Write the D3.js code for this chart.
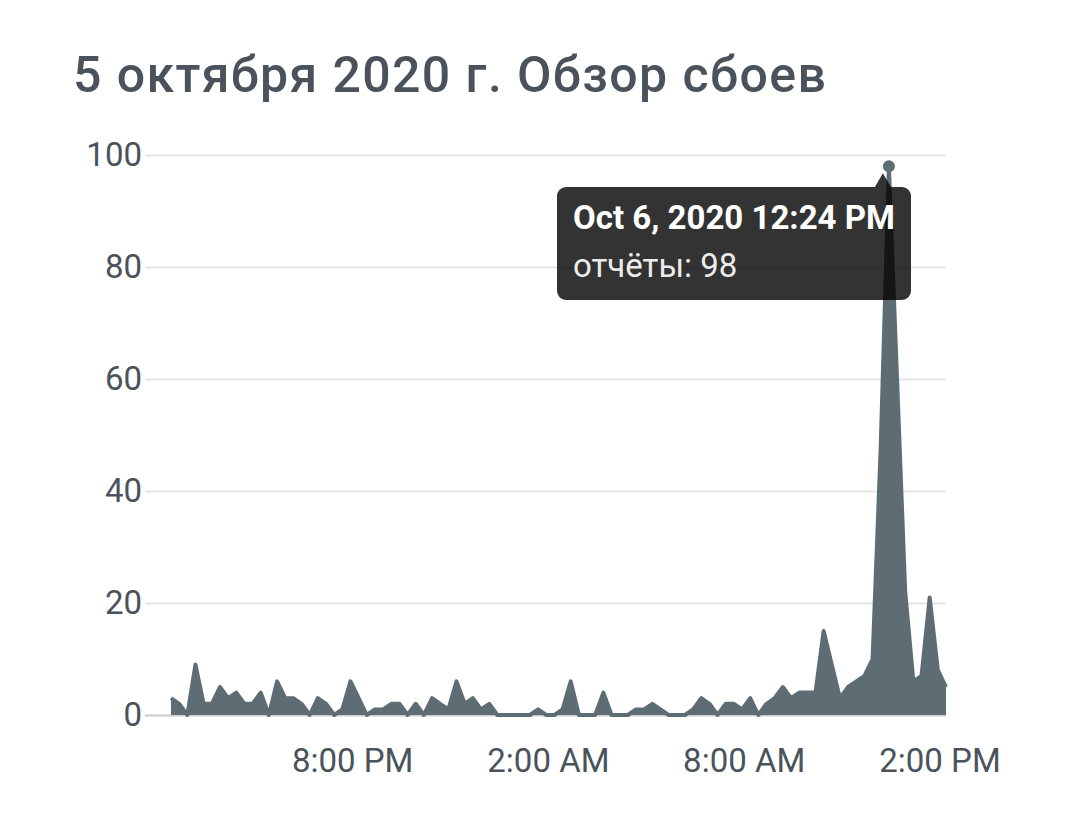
<!DOCTYPE html>
<html>
<head>
<meta charset="utf-8">
<script src="https://cdn.jsdelivr.net/npm/d3@7"></script>
<style>
  html, body { margin: 0; padding: 0; background: #ffffff; }
  svg { display: block; font-family: Roboto, "Noto Sans", sans-serif; }
</style>
</head>
<body>
<svg id="chart" width="1080" height="824"></svg>
<script>
// ---- data ----
const title = "5 октября 2020 г. Обзор сбоев";
const startTime = new Date(2020, 9, 5, 14, 27);
const stepMinutes = 15;
const reports = [
  3, 2, 0, 9, 2, 2, 5, 3, 4, 2, 2, 4, 0, 6, 3, 3, 2, 0, 3, 2,
  0, 1, 6, 3, 0, 1, 1, 2, 2, 0, 2, 0, 3, 2, 1, 6, 2, 3, 1, 2,
  0, 0, 0, 0, 0, 1, 0, 0, 1, 6, 0, 0, 0, 4, 0, 0, 0, 1, 1, 2,
  1, 0, 0, 0, 1, 3, 2, 0, 2, 2, 1, 3, 0, 2, 3, 5, 3, 4, 4, 4,
  15, 9, 3, 5, 6, 7, 10, 48, 98, 60, 22, 6, 7, 21, 8, 5
];
const yTicks = [0, 20, 40, 60, 80, 100];
const xTickTimes = [
  new Date(2020, 9, 5, 20, 0),
  new Date(2020, 9, 6, 2, 0),
  new Date(2020, 9, 6, 8, 0),
  new Date(2020, 9, 6, 14, 0)
];
const xTickLabels = ["8:00 PM", "2:00 AM", "8:00 AM", "2:00 PM"];
const tooltipIndex = 88;
const tooltipTitle = "Oct 6, 2020 12:24 PM";
const tooltipLabel = "отчёты: 98";

const data = reports.map((v, i) => ({ t: d3.timeMinute.offset(startTime, i * stepMinutes), v }));

// ---- layout ----
const plotLeft = 171, plotRight = 946, plotTop = 155, plotBottom = 715, gridLeft = 145;
const textColor = "#4a535b";
const areaColor = "#5e6c74";
const axisFont = 33;

const svg = d3.select("#chart");

const x = d3.scaleTime()
  .domain(d3.extent(data, d => d.t))
  .range([plotLeft, plotRight]);
const y = d3.scaleLinear().domain([0, 100]).range([plotBottom, plotTop]);

// title
svg.append("text")
  .attr("x", 73).attr("y", 92)
  .attr("fill", textColor)
  .attr("font-size", 50)
  .attr("font-weight", 500)
  .attr("letter-spacing", 1.4)
  .text(title);

// y axis + gridlines
const yAxis = svg.append("g")
  .attr("transform", `translate(${plotRight},0)`)
  .call(d3.axisLeft(y).tickValues(yTicks).tickFormat(d3.format("d"))
    .tickSize(plotRight - gridLeft).tickPadding(3));
yAxis.select(".domain").remove();
yAxis.selectAll(".tick line")
  .attr("stroke", d => d === 0 ? "#cccccc" : "#e4e4e4")
  .attr("stroke-width", 2);
yAxis.selectAll(".tick text")
  .attr("fill", textColor)
  .attr("font-size", axisFont)
  .attr("font-family", "Roboto, 'Noto Sans', sans-serif");

// x axis
const xAxis = svg.append("g")
  .attr("transform", `translate(0,${plotBottom})`)
  .call(d3.axisBottom(x).tickValues(xTickTimes)
    .tickFormat((d, i) => xTickLabels[i]).tickSize(0).tickPadding(34));
xAxis.select(".domain").remove();
xAxis.selectAll(".tick text")
  .attr("fill", textColor)
  .attr("font-size", axisFont)
  .attr("font-family", "Roboto, 'Noto Sans', sans-serif");

// area
const area = d3.area().x(d => x(d.t)).y0(y(0)).y1(d => y(d.v));
const line = d3.line().x(d => x(d.t)).y(d => y(d.v));
svg.append("path").datum(data).attr("d", area).attr("fill", areaColor);
svg.append("path").datum(data).attr("d", line)
  .attr("fill", "none").attr("stroke", areaColor)
  .attr("stroke-width", 4).attr("stroke-linejoin", "round");

// hover point
const tp = data[tooltipIndex];
const px = x(tp.t), py = y(tp.v);
svg.append("circle").attr("cx", px).attr("cy", py).attr("r", 6).attr("fill", areaColor);

// tooltip
const tipG = svg.append("g");
const boxX = 557, boxY = 187, boxW = 354, boxH = 113;
tipG.append("rect")
  .attr("x", boxX).attr("y", boxY).attr("width", boxW).attr("height", boxH)
  .attr("rx", 9).attr("ry", 9)
  .attr("fill", "rgba(0,0,0,0.8)");
tipG.append("path")
  .attr("d", `M${px - 14},${boxY} L${px - 6},${py + 7} L${px + 2},${boxY} Z`)
  .attr("fill", "rgba(0,0,0,0.8)");
tipG.append("text")
  .attr("x", boxX + 16).attr("y", boxY + 42)
  .attr("fill", "#ffffff").attr("font-size", 33).attr("font-weight", 700)
  .text(tooltipTitle);
tipG.append("text")
  .attr("x", boxX + 16).attr("y", boxY + 90)
  .attr("fill", "#ececec").attr("font-size", 33)
  .text(tooltipLabel);
</script>
</body>
</html>
